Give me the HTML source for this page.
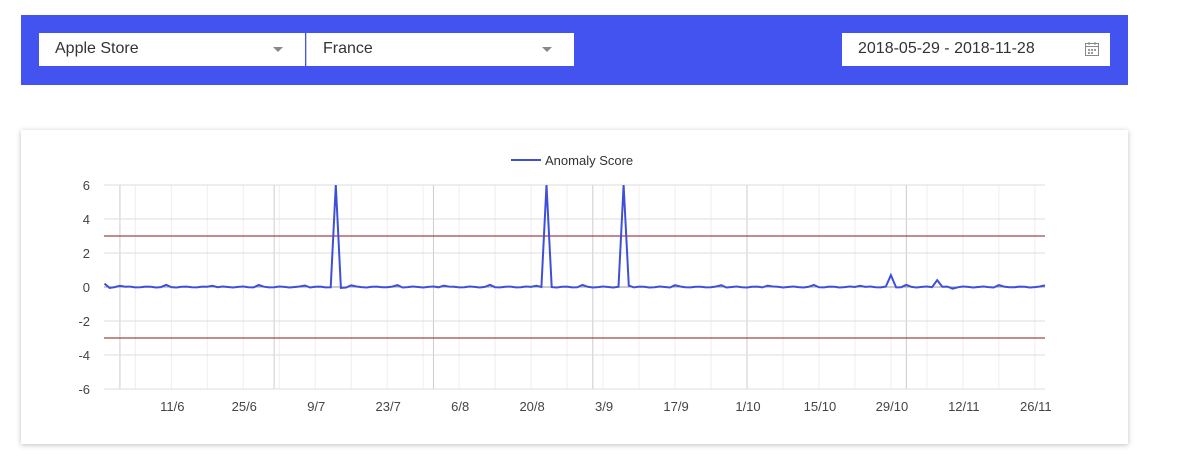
<!DOCTYPE html>
<html><head><meta charset="utf-8"><style>
body{margin:0;width:1177px;height:467px;background:#fff;font-family:"Liberation Sans",sans-serif;position:relative;overflow:hidden}
.bar{position:absolute;left:21px;top:15px;width:1107px;height:70px;background:#4353f0}
.dd{position:absolute;top:33px;height:33px;background:#fff;font-size:16px;color:#333;line-height:32px;box-sizing:border-box;padding-left:16px}
.arr{position:absolute;right:22px;top:14px;width:0;height:0;border-left:5px solid transparent;border-right:5px solid transparent;border-top:5px solid #888}
.card{position:absolute;left:21px;top:130px;width:1107px;height:314px;background:#fff;box-shadow:0 1px 5px rgba(0,0,0,.25)}
</style></head><body>
<div class="bar"></div>
<div class="dd" style="left:39px;width:266px">Apple Store<div class="arr"></div></div>
<div class="dd" style="left:306px;width:268px;border-left:1px solid #ccc">France<div class="arr"></div></div>
<div class="dd" style="left:842px;width:268px">2018-05-29 - 2018-11-28
<svg style="position:absolute;right:10px;top:8px" width="16" height="16" viewBox="0 0 16 16"><rect x="1.5" y="2.5" width="13" height="12" fill="none" stroke="#888"/><line x1="1.5" y1="5.5" x2="14.5" y2="5.5" stroke="#888"/><line x1="5" y1="1" x2="5" y2="4" stroke="#888"/><line x1="11" y1="1" x2="11" y2="4" stroke="#888"/><g fill="#999"><rect x="4" y="8" width="2" height="2"/><rect x="7" y="8" width="2" height="2"/><rect x="10" y="8" width="2" height="2"/><rect x="4" y="11" width="2" height="2"/><rect x="7" y="11" width="2" height="2"/></g></svg></div>
<div class="card"></div>
<svg id="c" style="position:absolute;left:0;top:0" width="1177" height="467"></svg>
<script>
var s='',X0=104.5,pd=5.14;
function x(d){return X0+d*pd}
function y(v){return 287-v*17}
for(var d=6;d<186;d+=7){var xx=x(d);if(xx>1045)break;s+='<line x1="'+xx+'" y1="185" x2="'+xx+'" y2="389" stroke="#eee"/>';}
[3,33,64,95,125,156].forEach(function(d){var xx=x(d);s+='<line x1="'+xx+'" y1="185" x2="'+xx+'" y2="389" stroke="#ccc"/>';});
for(var v=-6;v<=6;v+=2){s+='<line x1="104" y1="'+y(v)+'" x2="1045" y2="'+y(v)+'" stroke="'+(v==0?'#999':'#ddd')+'"/>';
s+='<text x="90" y="'+(y(v)+5)+'" text-anchor="end" font-size="13" fill="#444">'+v+'</text>';}
s+='<line x1="104" y1="236" x2="1045" y2="236" stroke="#8b1a1a"/><line x1="104" y1="338" x2="1045" y2="338" stroke="#8b1a1a"/>';
var labs=['11/6','25/6','9/7','23/7','6/8','20/8','3/9','17/9','1/10','15/10','29/10','12/11','26/11'];
labs.forEach(function(l,i){s+='<text x="'+(x(13+14*i)+1)+'" y="411" text-anchor="middle" font-size="13" fill="#444">'+l+'</text>';});
var sp={45:6,86:6,101:6,153:0.7,162:0.4,46:-0.05,165:-0.1};
var p=[];for(var d=0;d<=185;d++){var xx=x(d);if(xx>1045)xx=1045;var v=sp[d]!==undefined?sp[d]:(Math.sin(d*1.7)*0.03+(d%9==3?0.1:0));if(d==0)v=0.2;if(d==1)v=-0.05;p.push(xx.toFixed(1)+','+y(v).toFixed(1));if(xx>=1045)break;}
s+='<polyline points="'+p.join(' ')+'" fill="none" stroke="#3e50d8" stroke-width="2"/>';
s+='<line x1="511" y1="160" x2="541" y2="160" stroke="#3e50d8" stroke-width="2"/><text x="545" y="165" font-size="13" fill="#333">Anomaly Score</text>';
document.getElementById('c').innerHTML=s;
</script>
</body></html>
